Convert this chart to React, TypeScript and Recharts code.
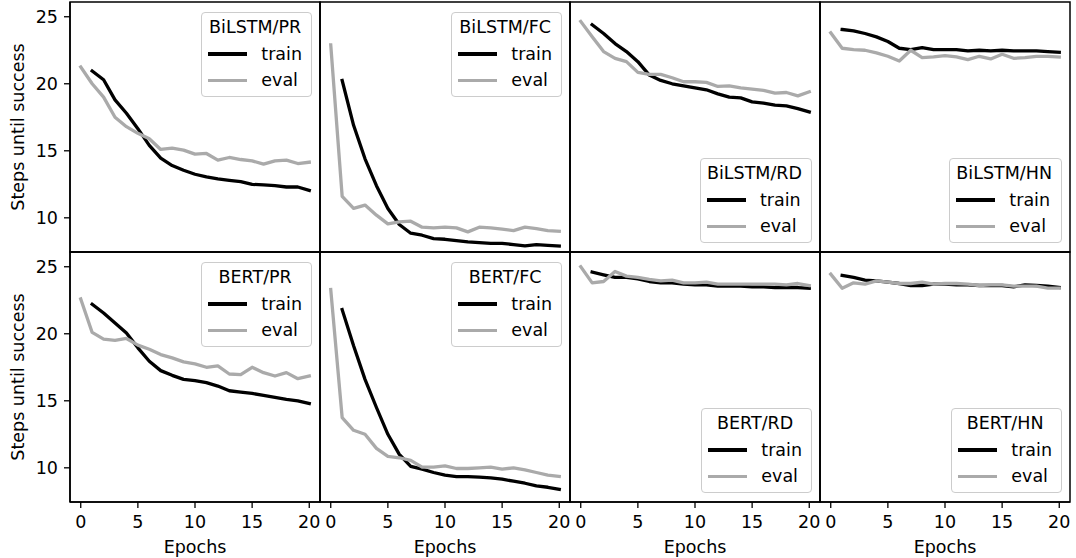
import React from "react";
import { LineChart, Line, XAxis, YAxis, Legend } from "recharts";

const FONT = '"DejaVu Sans", sans-serif';

const epochs = [0, 1, 2, 3, 4, 5, 6, 7, 8, 9, 10, 11, 12, 13, 14, 15, 16, 17, 18, 19, 20];
const xTicks = [0, 5, 10, 15, 20];
const yTicks = [10, 15, 20, 25];
const seriesOrder = ["train", "eval"];

// train starts at epoch 1, eval at epoch 0
const bilstmPrTrain = [20.95, 20.3, 18.8, 17.8, 16.65, 15.4, 14.45, 13.9, 13.55, 13.25, 13.05, 12.9, 12.8, 12.7, 12.5, 12.45, 12.4, 12.3, 12.3, 12.05];
const bilstmPrEval = [21.25, 20.0, 19.0, 17.5, 16.8, 16.3, 15.9, 15.1, 15.2, 15.05, 14.75, 14.8, 14.3, 14.5, 14.35, 14.25, 14.0, 14.25, 14.3, 14.05, 14.15];
const bilstmFcTrain = [20.25, 16.9, 14.4, 12.4, 10.7, 9.5, 8.85, 8.7, 8.45, 8.4, 8.3, 8.2, 8.15, 8.1, 8.1, 8.0, 7.9, 8.0, 7.95, 7.9];
const bilstmFcEval = [22.9, 11.6, 10.7, 10.95, 10.2, 9.55, 9.7, 9.75, 9.3, 9.25, 9.3, 9.25, 8.95, 9.3, 9.25, 9.15, 9.05, 9.3, 9.2, 9.05, 9.0];
const bilstmRdTrain = [24.4, 23.75, 23.0, 22.4, 21.65, 20.65, 20.25, 20.0, 19.85, 19.7, 19.55, 19.25, 19.0, 18.95, 18.65, 18.55, 18.4, 18.35, 18.15, 17.9];
const bilstmRdEval = [24.65, 23.5, 22.4, 21.9, 21.65, 20.85, 20.7, 20.7, 20.45, 20.15, 20.15, 20.1, 19.8, 19.85, 19.7, 19.6, 19.5, 19.3, 19.35, 19.1, 19.4];
const bilstmHnTrain = [24.05, 23.95, 23.75, 23.5, 23.15, 22.65, 22.55, 22.7, 22.55, 22.55, 22.55, 22.45, 22.5, 22.45, 22.5, 22.45, 22.45, 22.45, 22.4, 22.35];
const bilstmHnEval = [23.8, 22.65, 22.55, 22.5, 22.3, 22.05, 21.7, 22.5, 21.95, 22.0, 22.1, 22.0, 21.8, 22.05, 21.85, 22.2, 21.9, 21.95, 22.05, 22.05, 22.0];
const bertPrTrain = [22.2, 21.55, 20.8, 20.05, 18.95, 17.95, 17.25, 16.9, 16.6, 16.5, 16.35, 16.1, 15.75, 15.65, 15.55, 15.4, 15.25, 15.1, 15.0, 14.8];
const bertPrEval = [22.6, 20.1, 19.6, 19.5, 19.65, 19.15, 18.85, 18.45, 18.2, 17.9, 17.75, 17.5, 17.6, 17.0, 16.95, 17.5, 17.1, 16.85, 17.1, 16.65, 16.85];
const bertFcTrain = [21.8, 19.1, 16.6, 14.5, 12.5, 11.0, 10.1, 9.9, 9.65, 9.45, 9.35, 9.35, 9.3, 9.25, 9.15, 9.0, 8.85, 8.65, 8.55, 8.4];
const bertFcEval = [23.3, 13.75, 12.8, 12.5, 11.45, 10.85, 10.75, 10.55, 10.05, 10.05, 10.15, 9.95, 9.95, 10.0, 10.05, 9.9, 10.0, 9.85, 9.65, 9.45, 9.35];
const bertRdTrain = [24.6, 24.4, 24.2, 24.2, 24.1, 23.9, 23.8, 23.8, 23.7, 23.65, 23.65, 23.55, 23.55, 23.55, 23.5, 23.5, 23.45, 23.45, 23.45, 23.4];
const bertRdEval = [25.0, 23.8, 23.9, 24.65, 24.3, 24.2, 24.05, 23.95, 24.0, 23.8, 23.8, 23.85, 23.7, 23.7, 23.7, 23.7, 23.7, 23.7, 23.65, 23.75, 23.6];
const bertHnTrain = [24.35, 24.2, 24.0, 23.95, 23.85, 23.75, 23.6, 23.6, 23.7, 23.7, 23.65, 23.65, 23.6, 23.6, 23.6, 23.5, 23.65, 23.6, 23.55, 23.45];
const bertHnEval = [24.45, 23.4, 23.8, 23.7, 23.95, 23.85, 23.75, 23.75, 23.85, 23.7, 23.75, 23.75, 23.7, 23.6, 23.65, 23.65, 23.55, 23.55, 23.55, 23.4, 23.4];

const panels = [
  { title: "BiLSTM/PR", train: bilstmPrTrain, evals: bilstmPrEval, legend: "top" },
  { title: "BiLSTM/FC", train: bilstmFcTrain, evals: bilstmFcEval, legend: "top" },
  { title: "BiLSTM/RD", train: bilstmRdTrain, evals: bilstmRdEval, legend: "bottom" },
  { title: "BiLSTM/HN", train: bilstmHnTrain, evals: bilstmHnEval, legend: "bottom" },
  { title: "BERT/PR", train: bertPrTrain, evals: bertPrEval, legend: "top" },
  { title: "BERT/FC", train: bertFcTrain, evals: bertFcEval, legend: "top" },
  { title: "BERT/RD", train: bertRdTrain, evals: bertRdEval, legend: "bottom" },
  { title: "BERT/HN", train: bertHnTrain, evals: bertHnEval, legend: "bottom" },
];

const tickStyle = { fill: "#000", fontSize: 17.5, fontFamily: FONT };

function makeLegend(title: string) {
  return (props: any) => {
    const items = [...(props.payload || [])].sort(
      (a: any, b: any) => seriesOrder.indexOf(a.value) - seriesOrder.indexOf(b.value)
    );
    return (
      <div
        style={{
          border: "1px solid #cccccc",
          borderRadius: 4,
          background: "rgba(255,255,255,0.8)",
          padding: "1px 9px 2px 6px",
          fontFamily: FONT,
          fontSize: 17.5,
          lineHeight: "26.7px",
          color: "#000",
          whiteSpace: "nowrap",
        }}
      >
        <div style={{ textAlign: "center" }}>{title}</div>
        {items.map((p: any) => (
          <div key={p.value} style={{ display: "flex", alignItems: "center" }}>
            <span style={{ display: "inline-block", width: 39, height: 3.3, background: p.color, marginRight: 14 }} />
            <span>{p.value}</span>
          </div>
        ))}
      </div>
    );
  };
}

function Panel({ idx }: { idx: number }) {
  const p = panels[idx];
  const col = idx % 4;
  const row = Math.floor(idx / 4);
  const data = epochs.map((epoch, i) => ({
    epoch,
    train: i === 0 ? null : p.train[i - 1],
    eval: p.evals[i],
  }));
  const legendStyle =
    p.legend === "top" ? { top: 14, right: 12 } : { bottom: 65, right: 12 };

  return (
    <div style={{ position: "absolute", left: 250 * col, top: 2 + 250 * row - 4 }}>
      <LineChart width={324} height={310} data={data} margin={{ top: 4, right: 4, bottom: 0, left: 0 }}>
        <XAxis
          type="number"
          dataKey="epoch"
          domain={[-0.94, 20.94]}
          ticks={xTicks}
          height={56}
          axisLine={{ stroke: "#000", strokeWidth: 1.5 }}
          tickLine={row === 1 ? { stroke: "#000", strokeWidth: 1.3 } : false}
          tickSize={6}
          tickMargin={8}
          tick={row === 1 ? tickStyle : false}
          label={
            row === 1
              ? {
                  content: (lp: any) => {
                    const vb = lp.viewBox;
                    return (
                      <text x={vb.x + vb.width / 2} y={vb.y + 51} textAnchor="middle" fontSize={17.5} fontFamily={FONT} fill="#000">
                        Epochs
                      </text>
                    );
                  },
                }
              : undefined
          }
        />
        <YAxis
          type="number"
          domain={[7.45, 26.1]}
          ticks={yTicks}
          width={70}
          axisLine={{ stroke: "#000", strokeWidth: 1.5 }}
          tickLine={{ stroke: "#000", strokeWidth: 1.3 }}
          tickSize={6}
          tickMargin={6}
          tick={col === 0 ? tickStyle : false}
          label={
            col === 0
              ? {
                  content: (lp: any) => {
                    const vb = lp.viewBox;
                    const cx = vb.x + 24;
                    const cy = vb.y + vb.height / 2;
                    return (
                      <text x={cx} y={cy} transform={`rotate(-90, ${cx}, ${cy})`} textAnchor="middle" fontSize={17.5} fontFamily={FONT} fill="#000">
                        Steps until success
                      </text>
                    );
                  },
                }
              : undefined
          }
        />
        <Line type="linear" dataKey="train" name="train" stroke="#000000" strokeWidth={3.3} dot={false} strokeLinejoin="round" strokeLinecap="square" isAnimationActive={false} />
        <Line type="linear" dataKey="eval" name="eval" stroke="#aaaaaa" strokeWidth={3.3} dot={false} strokeLinejoin="round" strokeLinecap="square" isAnimationActive={false} />
        <Legend layout="vertical" align="center" verticalAlign="middle" wrapperStyle={legendStyle} content={makeLegend(p.title)} />
      </LineChart>
    </div>
  );
}

export default function App() {
  return (
    <div style={{ position: "absolute", left: 0, top: 0, width: 1076, height: 558, background: "#fff", fontFamily: FONT }}>
      {panels.map((_, i) => (
        <Panel key={i} idx={i} />
      ))}
      {/* axes frames (top/right spines) */}
      <svg width={1076} height={558} style={{ position: "absolute", left: 0, top: 0, pointerEvents: "none" }}>
        {panels.map((_, i) => (
          <rect
            key={i}
            x={70 + 250 * (i % 4)}
            y={2 + 250 * Math.floor(i / 4)}
            width={250}
            height={250}
            fill="none"
            stroke="#000"
            strokeWidth={1.5}
          />
        ))}
      </svg>
    </div>
  );
}
